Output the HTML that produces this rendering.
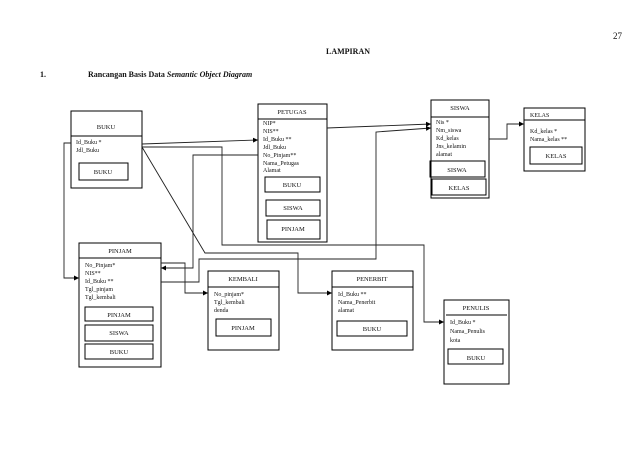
<!DOCTYPE html>
<html><head><meta charset="utf-8"><style>
body{margin:0;background:#fff}
svg{display:block}
text{font-family:"Liberation Serif",serif;fill:#111}
.t{font-size:6.5px;text-anchor:middle}
.a{font-size:6px}
.b{fill:none;stroke:#000;stroke-width:1}
.l{fill:none;stroke:#222;stroke-width:0.9}
</style></head><body>
<svg width="638" height="452" viewBox="0 0 638 452" xmlns="http://www.w3.org/2000/svg">
<defs><marker id="ar" markerWidth="6" markerHeight="6" refX="5" refY="3" orient="auto" markerUnits="userSpaceOnUse"><path d="M0,0.5 L5,3 L0,5.5 z" fill="#000"/></marker></defs>
<text x="613" y="39" style="font-size:9px">27</text>
<text x="348" y="54" style="font-size:8px;font-weight:bold" text-anchor="middle">LAMPIRAN</text>
<text x="40" y="77" style="font-size:8px;font-weight:bold">1.</text>
<text x="88" y="77" style="font-size:8px;font-weight:bold">Rancangan Basis Data <tspan font-style="italic">Semantic Object Diagram</tspan></text>

<!-- BUKU -->
<rect class="b" x="71" y="111" width="71" height="77"/>
<line class="b" x1="71" y1="136" x2="142" y2="136"/>
<text class="t" x="106" y="129">BUKU</text>
<text class="a" x="76" y="144">Id_Buku *</text>
<text class="a" x="76" y="152">Jdl_Buku</text>
<rect class="b" x="79" y="163" width="49" height="17"/>
<text class="t" x="103" y="174">BUKU</text>

<!-- PETUGAS -->
<rect class="b" x="258" y="104" width="69" height="138"/>
<line class="b" x1="258" y1="119" x2="327" y2="119"/>
<text class="t" x="292" y="114">PETUGAS</text>
<text class="a" x="263" y="125">NIP*</text>
<text class="a" x="263" y="133">NIS**</text>
<text class="a" x="263" y="141">Id_Buku **</text>
<text class="a" x="263" y="149">Jdl_Buku</text>
<text class="a" x="263" y="157">No_Pinjam**</text>
<text class="a" x="263" y="165">Nama_Petugas</text>
<text class="a" x="263" y="172">Alamat</text>
<rect class="b" x="265" y="177" width="55" height="15"/>
<text class="t" x="292" y="187">BUKU</text>
<rect class="b" x="266" y="200" width="54" height="16"/>
<text class="t" x="293" y="210">SISWA</text>
<rect class="b" x="267" y="220" width="53" height="19"/>
<text class="t" x="293" y="231">PINJAM</text>

<!-- SISWA -->
<rect class="b" x="431" y="100" width="58" height="98"/>
<line class="b" x1="431" y1="117" x2="489" y2="117"/>
<text class="t" x="460" y="110">SISWA</text>
<text class="a" x="436" y="124">Nis *</text>
<text class="a" x="436" y="132">Nm_siswa</text>
<text class="a" x="436" y="140">Kd_kelas</text>
<text class="a" x="436" y="148">Jns_kelamin</text>
<text class="a" x="436" y="156">alamat</text>
<rect class="b" x="430" y="161" width="55" height="16"/>
<text class="t" x="457" y="172">SISWA</text>
<rect class="b" x="432" y="179" width="54" height="16"/>
<text class="t" x="459" y="190">KELAS</text>

<!-- KELAS -->
<rect class="b" x="524" y="108" width="61" height="63"/>
<line class="b" x1="524" y1="120" x2="585" y2="120"/>
<text class="a" x="530" y="117">KELAS</text>
<text class="a" x="530" y="133">Kd_kelas *</text>
<text class="a" x="530" y="141">Nama_kelas **</text>
<rect class="b" x="530" y="147" width="52" height="17"/>
<text class="t" x="556" y="158">KELAS</text>

<!-- PINJAM -->
<rect class="b" x="79" y="243" width="82" height="124"/>
<line class="b" x1="79" y1="258" x2="161" y2="258"/>
<text class="t" x="120" y="253">PINJAM</text>
<text class="a" x="85" y="267">No_Pinjam*</text>
<text class="a" x="85" y="275">NIS**</text>
<text class="a" x="85" y="283">Id_Buku **</text>
<text class="a" x="85" y="291">Tgl_pinjam</text>
<text class="a" x="85" y="299">Tgl_kembali</text>
<rect class="b" x="85" y="307" width="68" height="14"/>
<text class="t" x="119" y="317">PINJAM</text>
<rect class="b" x="85" y="325" width="68" height="16"/>
<text class="t" x="119" y="335">SISWA</text>
<rect class="b" x="85" y="344" width="68" height="15"/>
<text class="t" x="119" y="354">BUKU</text>

<!-- KEMBALI -->
<rect class="b" x="208" y="271" width="71" height="79"/>
<line class="b" x1="208" y1="287" x2="279" y2="287"/>
<text class="t" x="243" y="281">KEMBALI</text>
<text class="a" x="214" y="296">No_pinjam*</text>
<text class="a" x="214" y="304">Tgl_kembali</text>
<text class="a" x="214" y="312">denda</text>
<rect class="b" x="216" y="319" width="55" height="17"/>
<text class="t" x="243" y="330">PINJAM</text>

<!-- PENERBIT -->
<rect class="b" x="332" y="271" width="81" height="79"/>
<line class="b" x1="332" y1="287" x2="413" y2="287"/>
<text class="t" x="372" y="281">PENERBIT</text>
<text class="a" x="338" y="296">Id_Buku **</text>
<text class="a" x="338" y="304">Nama_Penerbit</text>
<text class="a" x="338" y="312">alamat</text>
<rect class="b" x="337" y="321" width="70" height="15"/>
<text class="t" x="372" y="331">BUKU</text>

<!-- PENULIS -->
<rect class="b" x="444" y="300" width="65" height="84"/>
<line class="b" x1="446" y1="315" x2="507" y2="315"/>
<text class="t" x="476" y="310">PENULIS</text>
<text class="a" x="450" y="324">Id_Buku *</text>
<text class="a" x="450" y="333">Nama_Penulis</text>
<text class="a" x="450" y="342">kota</text>
<rect class="b" x="448" y="349" width="55" height="15"/>
<text class="t" x="476" y="360">BUKU</text>

<!-- connectors -->
<line class="l" x1="142" y1="144" x2="258" y2="140" marker-end="url(#ar)"/>
<polyline class="l" points="142,147 222,147 222,245 424,245 424,322 444,322" marker-end="url(#ar)"/>
<polyline class="l" points="142,147 205,253 298,253 298,293 332,293" marker-end="url(#ar)"/>
<polyline class="l" points="71,143 64,143 64,278 79,278" marker-end="url(#ar)"/>
<polyline class="l" points="258,155 193,155 193,268 161,268" marker-end="url(#ar)"/>
<polyline class="l" points="161,263 185,263 185,293 208,293" marker-end="url(#ar)"/>
<polyline class="l" points="161,282 199,282 199,259 376,259 376,132 431,128" marker-end="url(#ar)"/>
<line class="l" x1="327" y1="128" x2="431" y2="124" marker-end="url(#ar)"/>
<polyline class="l" points="489,139 507,139 507,124 524,124" marker-end="url(#ar)"/>
</svg>
</body></html>
